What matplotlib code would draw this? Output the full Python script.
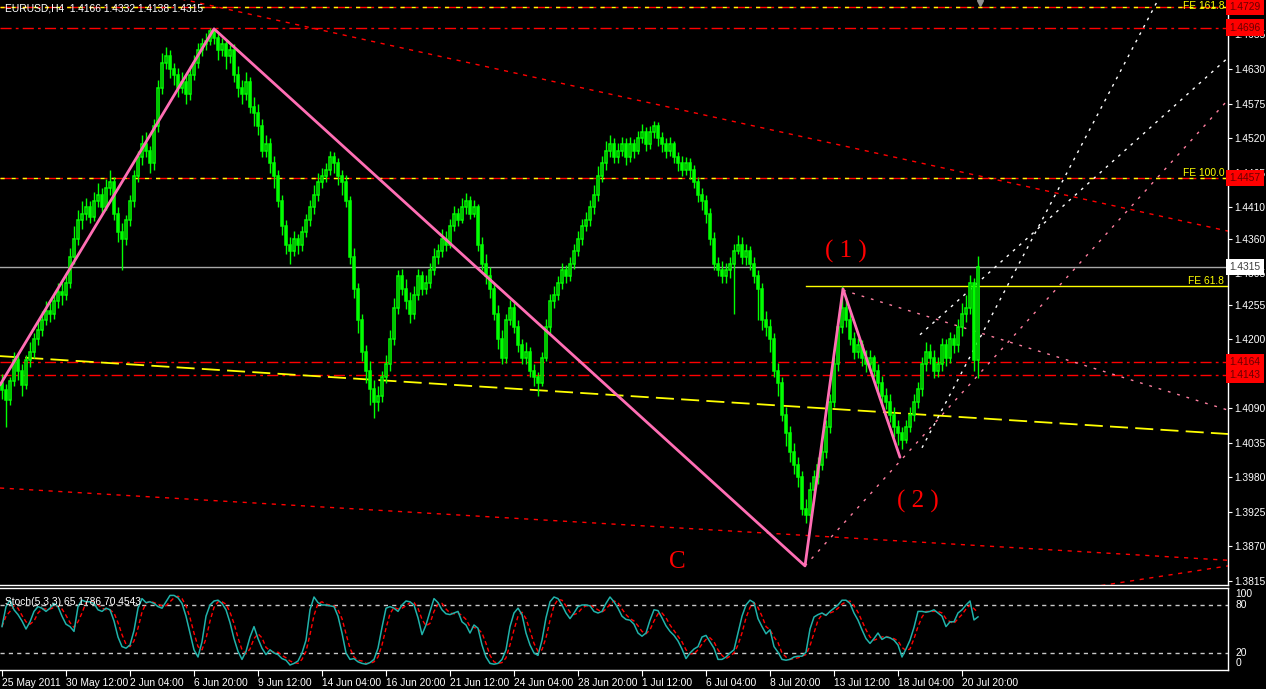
import matplotlib
matplotlib.use("Agg")
import matplotlib.pyplot as plt
import numpy as np

# ---------------- data ----------------
symbol_header = "EURUSD,H4  1.4166 1.4332 1.4138 1.4315"
stoch_header = "Stoch(5,3,3) 65.1786 70.4543"

first_open = 1.4130
closes = [
1.4119,1.4103,1.4134,1.4166,1.4150,1.4127,1.4166,1.4180,1.4200,1.4215,
1.4230,1.4245,1.4240,1.4260,1.4275,1.4270,1.4290,1.4330,1.4360,1.4390,
1.4400,1.4410,1.4395,1.4420,1.4430,1.4410,1.4440,1.4450,1.4400,1.4370,
1.4360,1.4390,1.4420,1.4460,1.4490,1.4510,1.4500,1.4480,1.4540,1.4600,
1.4640,1.4650,1.4630,1.4620,1.4600,1.4610,1.4590,1.4620,1.4640,1.4660,
1.4670,1.4675,1.4690,1.4680,1.4660,1.4670,1.4650,1.4660,1.4620,1.4600,
1.4590,1.4610,1.4570,1.4560,1.4540,1.4500,1.4510,1.4480,1.4460,1.4420,
1.4380,1.4350,1.4340,1.4360,1.4350,1.4370,1.4390,1.4410,1.4430,1.4450,
1.4460,1.4470,1.4490,1.4480,1.4460,1.4450,1.4420,1.4330,1.4280,1.4230,
1.4180,1.4150,1.4120,1.4100,1.4110,1.4140,1.4160,1.4200,1.4250,1.4300,
1.4280,1.4260,1.4240,1.4270,1.4300,1.4280,1.4290,1.4310,1.4330,1.4340,
1.4360,1.4350,1.4380,1.4400,1.4390,1.4410,1.4420,1.4400,1.4410,1.4350,
1.4320,1.4300,1.4280,1.4240,1.4200,1.4170,1.4230,1.4250,1.4220,1.4190,
1.4170,1.4180,1.4150,1.4140,1.4130,1.4170,1.4220,1.4260,1.4270,1.4290,
1.4310,1.4300,1.4320,1.4340,1.4360,1.4380,1.4390,1.4410,1.4430,1.4460,
1.4480,1.4500,1.4510,1.4490,1.4500,1.4510,1.4490,1.4510,1.4500,1.4520,
1.4530,1.4510,1.4530,1.4540,1.4520,1.4510,1.4500,1.4510,1.4490,1.4480,
1.4470,1.4480,1.4470,1.4450,1.4430,1.4420,1.4400,1.4360,1.4320,1.4310,
1.4300,1.4310,1.4320,1.4340,1.4350,1.4330,1.4340,1.4320,1.4300,1.4280,
1.4230,1.4220,1.4200,1.4150,1.4130,1.4080,1.4050,1.4020,1.4000,1.3980,
1.3930,1.3920,1.3960,1.3980,1.4000,1.4020,1.4060,1.4100,1.4160,1.4220,
1.4250,1.4230,1.4200,1.4180,1.4190,1.4170,1.4160,1.4170,1.4150,1.4130,
1.4110,1.4100,1.4080,1.4060,1.4050,1.4040,1.4060,1.4080,1.4100,1.4120,
1.4160,1.4180,1.4170,1.4150,1.4160,1.4190,1.4170,1.4200,1.4190,1.4220,
1.4240,1.4250,1.4290,1.4166,1.4315]

highs = [
1.4145,1.4128,1.4140,1.4180,1.4175,1.4160,1.4175,1.4195,1.4210,1.4230,
1.4245,1.4260,1.4258,1.4272,1.4290,1.4290,1.4305,1.4345,1.4380,1.4405,
1.4420,1.4425,1.4420,1.4435,1.4448,1.4440,1.4455,1.4470,1.4458,1.4410,
1.4385,1.4398,1.4430,1.4470,1.4500,1.4525,1.4530,1.4508,1.4550,1.4612,
1.4655,1.4665,1.4660,1.4640,1.4632,1.4625,1.4622,1.4635,1.4652,1.4672,
1.4680,1.4688,1.4696,1.4694,1.4688,1.4680,1.4678,1.4668,1.4670,1.4635,
1.4612,1.4625,1.4618,1.4585,1.4575,1.4550,1.4525,1.4520,1.4492,1.4470,
1.4430,1.4390,1.4362,1.4372,1.4368,1.4380,1.4400,1.4422,1.4445,1.4465,
1.4472,1.4480,1.4500,1.4498,1.4488,1.4470,1.4462,1.4428,1.4345,1.4290,
1.4240,1.4190,1.4165,1.4135,1.4125,1.4150,1.4175,1.4215,1.4265,1.4310,
1.4312,1.4295,1.4275,1.4285,1.4312,1.4308,1.4302,1.4322,1.4345,1.4352,
1.4375,1.4372,1.4392,1.4412,1.4408,1.4425,1.4432,1.4428,1.4422,1.4415,
1.4362,1.4335,1.4315,1.4290,1.4255,1.4215,1.4240,1.4262,1.4258,1.4230,
1.4200,1.4195,1.4188,1.4160,1.4148,1.4180,1.4232,1.4272,1.4285,1.4300,
1.4322,1.4318,1.4330,1.4352,1.4372,1.4392,1.4402,1.4422,1.4445,1.4475,
1.4492,1.4515,1.4525,1.4520,1.4512,1.4522,1.4520,1.4522,1.4518,1.4532,
1.4542,1.4538,1.4540,1.4548,1.4545,1.4530,1.4520,1.4522,1.4515,1.4498,
1.4492,1.4490,1.4488,1.4478,1.4458,1.4440,1.4430,1.4408,1.4370,1.4330,
1.4325,1.4322,1.4330,1.4352,1.4365,1.4362,1.4352,1.4348,1.4330,1.4310,
1.4290,1.4245,1.4232,1.4210,1.4162,1.4140,1.4092,1.4062,1.4035,1.4012,
1.3990,1.3945,1.3972,1.3992,1.4012,1.4035,1.4072,1.4112,1.4172,1.4232,
1.4285,1.4265,1.4245,1.4212,1.4202,1.4198,1.4182,1.4182,1.4175,1.4160,
1.4142,1.4122,1.4112,1.4092,1.4072,1.4060,1.4072,1.4092,1.4112,1.4132,
1.4172,1.4195,1.4192,1.4182,1.4172,1.4202,1.4200,1.4212,1.4208,1.4232,
1.4258,1.4270,1.4302,1.4298,1.4332]

lows = [
1.4105,1.4060,1.4095,1.4125,1.4135,1.4110,1.4120,1.4155,1.4170,1.4190,
1.4205,1.4222,1.4228,1.4232,1.4250,1.4255,1.4262,1.4282,1.4320,1.4350,
1.4375,1.4390,1.4385,1.4388,1.4410,1.4400,1.4405,1.4430,1.4390,1.4355,
1.4310,1.4350,1.4380,1.4410,1.4450,1.4478,1.4490,1.4465,1.4470,1.4530,
1.4590,1.4630,1.4615,1.4605,1.4585,1.4592,1.4575,1.4580,1.4612,1.4632,
1.4650,1.4660,1.4668,1.4670,1.4645,1.4650,1.4630,1.4640,1.4610,1.4585,
1.4575,1.4580,1.4560,1.4540,1.4525,1.4490,1.4490,1.4465,1.4440,1.4410,
1.4365,1.4335,1.4320,1.4332,1.4335,1.4340,1.4362,1.4380,1.4400,1.4420,
1.4440,1.4450,1.4462,1.4465,1.4445,1.4430,1.4410,1.4320,1.4265,1.4210,
1.4165,1.4130,1.4095,1.4075,1.4085,1.4100,1.4130,1.4150,1.4190,1.4240,
1.4270,1.4248,1.4225,1.4232,1.4262,1.4270,1.4272,1.4282,1.4302,1.4320,
1.4330,1.4340,1.4345,1.4372,1.4380,1.4385,1.4400,1.4392,1.4395,1.4340,
1.4310,1.4288,1.4265,1.4230,1.4185,1.4160,1.4162,1.4222,1.4210,1.4180,
1.4160,1.4160,1.4140,1.4125,1.4110,1.4125,1.4165,1.4210,1.4250,1.4262,
1.4280,1.4290,1.4292,1.4312,1.4332,1.4350,1.4372,1.4380,1.4400,1.4420,
1.4450,1.4470,1.4490,1.4480,1.4480,1.4492,1.4478,1.4482,1.4488,1.4495,
1.4512,1.4500,1.4502,1.4520,1.4508,1.4498,1.4488,1.4492,1.4480,1.4468,
1.4460,1.4462,1.4455,1.4440,1.4418,1.4405,1.4385,1.4350,1.4310,1.4300,
1.4290,1.4290,1.4298,1.4240,1.4335,1.4320,1.4318,1.4310,1.4290,1.4230,
1.4215,1.4205,1.4180,1.4140,1.4110,1.4070,1.4030,1.4005,1.3985,1.3965,
1.3920,1.3908,1.3912,1.3950,1.3970,1.3992,1.4010,1.4050,1.4092,1.4150,
1.4210,1.4220,1.4190,1.4168,1.4170,1.4158,1.4148,1.4150,1.4140,1.4115,
1.4098,1.4088,1.4068,1.4045,1.4032,1.4025,1.4035,1.4052,1.4070,1.4090,
1.4110,1.4150,1.4160,1.4138,1.4140,1.4150,1.4158,1.4162,1.4178,1.4180,
1.4205,1.4228,1.4240,1.4150,1.4138]

stoch_k = [
53,78,86,74,68,60,50,59,72,78, 76,72,76,82,78,66,56,53,47,78,
86,84,84,82,74,72,76,74,60,40, 28,26,30,48,76,88,83,84,82,78,
76,84,92,92,89,82,66,45,24,15, 34,66,80,85,86,82,74,58,38,22,
12,22,40,53,38,26,18,24,20,18, 13,11,5,7,10,20,36,74,90,83,
80,80,79,78,66,45,20,12,13,9, 7,6,8,12,26,52,76,78,76,72,
80,85,84,80,64,43,55,72,88,83, 74,69,68,70,72,59,55,45,55,51,
30,15,7,6,7,12,24,53,70,76, 68,45,30,20,17,36,64,84,90,88,
80,70,63,70,78,80,80,79,72,70, 72,82,90,84,76,66,62,61,56,45,
41,45,61,74,73,64,54,47,42,35, 25,13,20,25,28,40,42,34,26,12,
12,15,20,24,45,66,80,86,83,63, 53,44,49,28,21,12,11,12,15,16,
16,21,50,65,68,70,67,72,76,80, 86,86,82,70,61,49,38,32,38,45,
37,40,39,36,30,15,25,36,52,72, 72,71,72,74,70,66,53,59,59,70,
74,80,85,61.3,65.18]

stoch_d = [
53,66,72,79,76,67,59,56,60,70, 75,75,75,77,79,75,67,58,52,59,
70,83,85,83,80,76,74,74,70,58, 43,31,28,35,51,71,82,85,83,81,
79,79,84,89,91,88,79,64,45,28, 24,38,60,77,84,84,81,71,57,39,
24,19,25,38,44,39,27,23,21,21, 17,14,10,8,7,12,22,43,67,82,
84,81,80,79,74,63,44,26,15,11, 10,7,7,9,15,30,51,69,77,75,
76,79,83,83,76,62,54,57,72,81, 82,75,70,69,70,67,62,53,52,50,
45,32,17,9,7,8,14,30,49,66, 71,63,48,32,22,24,39,61,79,87,
86,79,71,68,70,76,79,80,77,74, 71,75,81,85,83,75,68,63,60,54,
47,44,49,60,69,70,64,55,48,41, 34,24,19,19,24,31,37,39,34,24,
17,13,16,20,30,45,64,77,83,77, 66,53,49,40,33,20,15,12,13,14,
16,18,29,45,61,68,68,70,72,76, 81,84,85,79,71,60,49,40,36,38,
40,41,39,38,35,27,23,25,38,53, 65,72,72,72,72,70,63,59,57,63,
68,75,80,75.4,70.45]

tick_prices = [1.4685,1.4630,1.4575,1.4520,1.4465,1.4410,1.4360,1.4305,1.4255,
               1.4200,1.4090,1.4035,1.3980,1.3925,1.3870,1.3815]
date_ticks = [0,16,32,48,64,80,96,112,128,144,160,176,192,208,224,240]
date_labels = ["25 May 2011","30 May 12:00","2 Jun 04:00","6 Jun 20:00","9 Jun 12:00",
               "14 Jun 04:00","16 Jun 20:00","21 Jun 12:00","24 Jun 04:00","28 Jun 20:00",
               "1 Jul 12:00","6 Jul 04:00","8 Jul 20:00","13 Jul 12:00","18 Jul 04:00",
               "20 Jul 20:00"]

red_levels = [1.4729, 1.4696, 1.4457, 1.4164, 1.4143]
fe_levels = [1.4729, 1.4457]
fe_labels = ["FE 161.8", "FE 100.0"]
fe618_price = 1.4285
fe618_start = 201.0
bid_price = 1.4315

zigzag_bars = [-0.5, 53.0, 200.75, 210.25, 224.5]
zigzag_prices = [1.4127, 1.4694, 1.3839, 1.4280, 1.4012]

yellow_trend = ([-0.5, 306.5], [1.4173, 1.4049])
red_trend_top = ([43.75, 306.5], [1.4743, 1.4372])
red_trend_low = ([-0.5, 306.5], [1.3963, 1.3848])
red_trend_rise = ([270.0, 306.5], [1.3803, 1.3839])
pink_trend_1 = ([210.25, 306.5], [1.4278, 1.4087])
pink_trend_c = ([200.75, 306.5], [1.3839, 1.4581])
white_trend_a = ([230.0, 289.0], [1.4027, 1.4740])
white_trend_b = ([229.5, 306.5], [1.4207, 1.4648])

wave_labels = ["( 1 )", "( 2 )", "C"]
wave_label_bars = [211.0, 229.0, 168.9]
wave_label_prices = [1.4339, 1.3941, 1.38445]

# ---------------- figure ----------------
W, H = 1266, 689
fig = plt.figure(figsize=(W / 100, H / 100), dpi=100, facecolor="black")
plt.rcParams["font.family"] = ["Liberation Sans", "DejaVu Sans"]
FS = 7.4


def px_axes(x0, y0, x1, y1):
    return fig.add_axes([x0 / W, 1 - y1 / H, (x1 - x0) / W, (y1 - y0) / H])


ax = px_axes(0, 0, 1228, 585)
ax2 = px_axes(0, 588, 1228, 670)
for a in (ax, ax2):
    a.set_facecolor("black")
    for s in a.spines.values():
        s.set_color("white")
        s.set_linewidth(1.0)
    a.spines["left"].set_visible(False)
ax.spines["top"].set_visible(False)

n = len(closes)
xb = np.arange(n)
opens = [first_open] + closes[:-1]

ax.set_xlim(-0.5, 306.5)
ax.set_ylim(1.38086, 1.47399)

# horizontal levels
for p in red_levels:
    ax.axhline(p, color="#ff0000", lw=1, dashes=(8, 3, 2, 3), zorder=2)
for p in fe_levels:
    ax.axhline(p, color="#ffff00", lw=1, dashes=(3, 5), zorder=2.1)
ax.axhline(bid_price, color="#a8a8a8", lw=1, zorder=2)
ax.plot([fe618_start, 306.5], [fe618_price, fe618_price], color="#ffff00", lw=1, zorder=2)

# trend lines
ax.plot(*yellow_trend, color="#ffff00", lw=1.3, dashes=(10, 4), zorder=2)
ax.plot(*red_trend_top, color="#ff0000", lw=1, dashes=(3, 4), zorder=2)
ax.plot(*red_trend_low, color="#ff0000", lw=1, dashes=(3, 4), zorder=2)
ax.plot(*red_trend_rise, color="#ff0000", lw=1, dashes=(3, 4), zorder=2)
ax.plot(*pink_trend_1, color="#ff7fa0", lw=1, dashes=(2, 5), zorder=2)
ax.plot(*pink_trend_c, color="#ff7fa0", lw=1, dashes=(2, 5), zorder=2)
ax.plot(*white_trend_a, color="white", lw=1, dashes=(2, 4), zorder=2)
ax.plot(*white_trend_b, color="white", lw=1, dashes=(2, 4), zorder=2)

# candles
ax.vlines(xb, lows, highs, color="#00ff00", lw=1, zorder=3)
o_arr = np.array(opens)
c_arr = np.array(closes)
up = c_arr >= o_arr
bottoms = np.minimum(o_arr, c_arr)
heights = np.maximum(np.abs(c_arr - o_arr), 0.00004)
ax.bar(xb[up], heights[up], bottom=bottoms[up], width=0.62, color="black",
       edgecolor="#00ff00", linewidth=1.1, zorder=4)
ax.bar(xb[~up], heights[~up], bottom=bottoms[~up], width=0.62, color="#00ff00",
       edgecolor="#00ff00", linewidth=1.1, zorder=4)

# zigzag
ax.plot(zigzag_bars, zigzag_prices, color="#ff6eb4", lw=2, zorder=5, solid_capstyle="round")

# wave labels
for t, b, p in zip(wave_labels, wave_label_bars, wave_label_prices):
    ax.text(b, p, t, color="#ff0000", fontsize=18, ha="center", va="center",
            family=["Liberation Serif", "DejaVu Serif"], zorder=6)

# shift marker
ax.plot([244.5], [1.4735], marker="v", color="#909090", markersize=5, zorder=6, clip_on=False)

# y axis
ax.yaxis.tick_right()
ax.set_yticks(tick_prices)
ax.set_yticklabels([f"{p:.4f}" for p in tick_prices])
ax.tick_params(axis="y", colors="white", labelsize=FS, length=3, pad=1.5)
ax.tick_params(axis="x", bottom=False, labelbottom=False)

ytr = ax.get_yaxis_transform()
for p in red_levels:
    ax.text(1.0012, p, f"{p:.4f}", transform=ytr, color="#6a0000", fontsize=FS,
            va="center", ha="left", zorder=10, clip_on=False,
            bbox=dict(boxstyle="square,pad=0.3", facecolor="#ff0000", edgecolor="none"))
ax.text(1.0012, bid_price, f"{bid_price:.4f}", transform=ytr, color="#404040", fontsize=FS,
        va="center", ha="left", zorder=10, clip_on=False,
        bbox=dict(boxstyle="square,pad=0.3", facecolor="white", edgecolor="none"))

ax.text(0.997, 0.999, fe_labels[0], transform=ax.transAxes, color="#ffff00", fontsize=FS,
        ha="right", va="top", zorder=6)
for p, lab in [(fe_levels[1], fe_labels[1]), (fe618_price, "FE 61.8")]:
    ax.text(0.997, p, lab, transform=ytr, color="#ffff00", fontsize=FS,
            ha="right", va="bottom", zorder=6)

ax.text(0.004, 0.986, symbol_header, transform=ax.transAxes, color="white",
        fontsize=FS, ha="left", va="center", zorder=7)

# ---------------- stochastic ----------------
ax2.set_xlim(-0.5, 306.5)
ax2.set_ylim(-1.25, 101.25)
ax2.axhline(80, color="#c8c8c8", lw=1, dashes=(3, 3))
ax2.axhline(20, color="#c8c8c8", lw=1, dashes=(3, 3))
ax2.plot(np.arange(len(stoch_k)), stoch_k, color="#20b2aa", lw=1.1, zorder=3)
ax2.plot(np.arange(len(stoch_d)), stoch_d, color="#ff0000", lw=1, dashes=(3, 2), zorder=2)
ax2.set_yticks([])
for v, yv in [(100, 93.5), (80, 80), (20, 20), (0, 7)]:
    ax2.text(1.006, yv, str(v), transform=ax2.get_yaxis_transform(), color="white",
             fontsize=FS, va="center", ha="left", clip_on=False)
ax2.text(0.004, 0.83, stoch_header, transform=ax2.transAxes, color="white",
         fontsize=FS, ha="left", va="center")
ax2.set_xticks(date_ticks)
ax2.set_xticklabels(date_labels, ha="left")
ax2.tick_params(axis="x", colors="white", labelsize=FS, length=4, pad=2, direction="out")

fig.savefig("out.png", dpi=100, facecolor="black")
